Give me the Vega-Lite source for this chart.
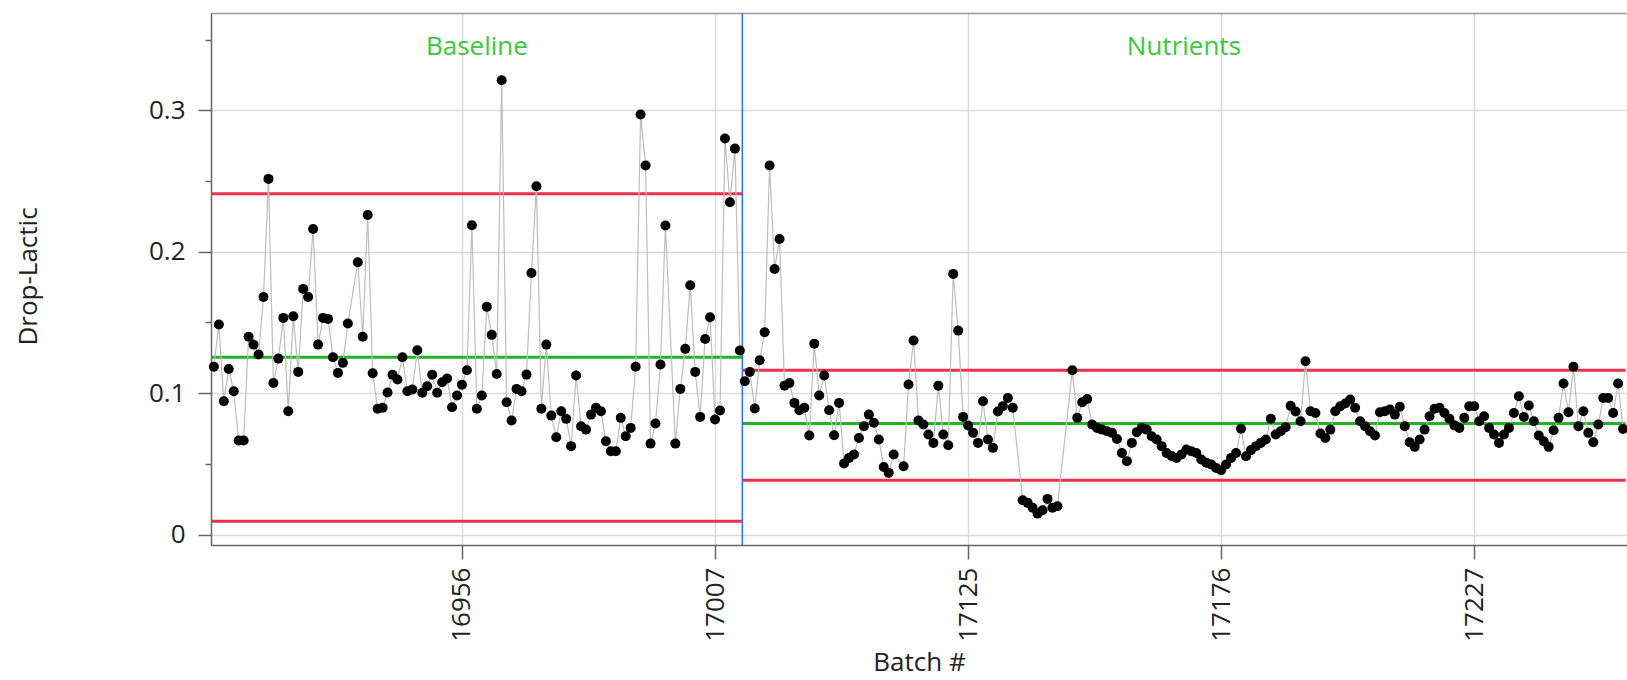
{
"$schema": "https://vega.github.io/schema/vega-lite/v6.json",
"width": 1416, "height": 532,
"autosize": {"type": "none"},
"padding": {"left": 211, "top": 13, "right": 0, "bottom": 135},
"background": "white",
"config": {
  "font": "Open Sans",
  "view": {"stroke": null},
  "axis": {"labelFont": "Open Sans", "titleFont": "Open Sans", "labelFontSize": 26, "titleFontSize": 26, "titleFontWeight": "normal", "labelColor": "#222222", "titleColor": "#222222", "gridColor": "#dadada", "gridWidth": 1.5, "tickColor": "#666666", "tickWidth": 1.5, "domainColor": "#666666", "domainWidth": 1.5}
},
"resolve": {"axis": {"x": "independent"}},
"datasets": {
"points": [
{"row":0,"phase":"Baseline","value":0.1186},{"row":1,"phase":"Baseline","value":0.1485},{"row":2,"phase":"Baseline","value":0.0943},{"row":3,"phase":"Baseline","value":0.1171},{"row":4,"phase":"Baseline","value":0.1013},{"row":5,"phase":"Baseline","value":0.0665},{"row":6,"phase":"Baseline","value":0.0665},{"row":7,"phase":"Baseline","value":0.1398},{"row":8,"phase":"Baseline","value":0.1343},{"row":9,"phase":"Baseline","value":0.1273},
{"row":10,"phase":"Baseline","value":0.168},{"row":11,"phase":"Baseline","value":0.2515},{"row":12,"phase":"Baseline","value":0.1072},{"row":13,"phase":"Baseline","value":0.1244},{"row":14,"phase":"Baseline","value":0.1532},{"row":15,"phase":"Baseline","value":0.0872},{"row":16,"phase":"Baseline","value":0.1544},{"row":17,"phase":"Baseline","value":0.115},{"row":18,"phase":"Baseline","value":0.1737},{"row":19,"phase":"Baseline","value":0.168},
{"row":20,"phase":"Baseline","value":0.2161},{"row":21,"phase":"Baseline","value":0.1343},{"row":22,"phase":"Baseline","value":0.1532},{"row":23,"phase":"Baseline","value":0.1525},{"row":24,"phase":"Baseline","value":0.1254},{"row":25,"phase":"Baseline","value":0.1143},{"row":26,"phase":"Baseline","value":0.1214},{"row":27,"phase":"Baseline","value":0.1492},{"row":29,"phase":"Baseline","value":0.1926},
{"row":30,"phase":"Baseline","value":0.1398},{"row":31,"phase":"Baseline","value":0.226},{"row":32,"phase":"Baseline","value":0.114},{"row":33,"phase":"Baseline","value":0.0889},{"row":34,"phase":"Baseline","value":0.0896},{"row":35,"phase":"Baseline","value":0.1005},{"row":36,"phase":"Baseline","value":0.113},{"row":37,"phase":"Baseline","value":0.1096},{"row":38,"phase":"Baseline","value":0.1254},{"row":39,"phase":"Baseline","value":0.1013},
{"row":40,"phase":"Baseline","value":0.1025},{"row":41,"phase":"Baseline","value":0.1303},{"row":42,"phase":"Baseline","value":0.1002},{"row":43,"phase":"Baseline","value":0.1049},{"row":44,"phase":"Baseline","value":0.113},{"row":45,"phase":"Baseline","value":0.1002},{"row":46,"phase":"Baseline","value":0.1077},{"row":47,"phase":"Baseline","value":0.1103},{"row":48,"phase":"Baseline","value":0.09},{"row":49,"phase":"Baseline","value":0.0983},
{"row":50,"phase":"Baseline","value":0.106},{"row":51,"phase":"Baseline","value":0.1162},{"row":52,"phase":"Baseline","value":0.2187},{"row":53,"phase":"Baseline","value":0.0889},{"row":54,"phase":"Baseline","value":0.0983},{"row":55,"phase":"Baseline","value":0.161},{"row":56,"phase":"Baseline","value":0.1412},{"row":57,"phase":"Baseline","value":0.1135},{"row":58,"phase":"Baseline","value":0.3212},{"row":59,"phase":"Baseline","value":0.0936},
{"row":60,"phase":"Baseline","value":0.0806},{"row":61,"phase":"Baseline","value":0.103},{"row":62,"phase":"Baseline","value":0.1013},{"row":63,"phase":"Baseline","value":0.1131},{"row":64,"phase":"Baseline","value":0.185},{"row":65,"phase":"Baseline","value":0.2463},{"row":66,"phase":"Baseline","value":0.0889},{"row":67,"phase":"Baseline","value":0.1343},{"row":68,"phase":"Baseline","value":0.0841},{"row":69,"phase":"Baseline","value":0.0688},
{"row":70,"phase":"Baseline","value":0.0872},{"row":71,"phase":"Baseline","value":0.0818},{"row":72,"phase":"Baseline","value":0.0625},{"row":73,"phase":"Baseline","value":0.1124},{"row":74,"phase":"Baseline","value":0.0766},{"row":75,"phase":"Baseline","value":0.0742},{"row":76,"phase":"Baseline","value":0.0848},{"row":77,"phase":"Baseline","value":0.0896},{"row":78,"phase":"Baseline","value":0.0872},{"row":79,"phase":"Baseline","value":0.066},
{"row":80,"phase":"Baseline","value":0.0589},{"row":81,"phase":"Baseline","value":0.0589},{"row":82,"phase":"Baseline","value":0.0825},{"row":83,"phase":"Baseline","value":0.0695},{"row":84,"phase":"Baseline","value":0.0754},{"row":85,"phase":"Baseline","value":0.1186},{"row":86,"phase":"Baseline","value":0.297},{"row":87,"phase":"Baseline","value":0.2609},{"row":88,"phase":"Baseline","value":0.0643},{"row":89,"phase":"Baseline","value":0.0785},
{"row":90,"phase":"Baseline","value":0.1202},{"row":91,"phase":"Baseline","value":0.2185},{"row":93,"phase":"Baseline","value":0.0643},{"row":94,"phase":"Baseline","value":0.103},{"row":95,"phase":"Baseline","value":0.1313},{"row":96,"phase":"Baseline","value":0.1763},{"row":97,"phase":"Baseline","value":0.115},{"row":98,"phase":"Baseline","value":0.0832},{"row":99,"phase":"Baseline","value":0.1383},
{"row":100,"phase":"Baseline","value":0.1537},{"row":101,"phase":"Baseline","value":0.0813},{"row":102,"phase":"Baseline","value":0.0877},{"row":103,"phase":"Baseline","value":0.28},{"row":104,"phase":"Baseline","value":0.235},{"row":105,"phase":"Baseline","value":0.2729},{"row":106,"phase":"Baseline","value":0.1301},
{"row":107,"phase":"Nutrients","value":0.1084},{"row":108,"phase":"Nutrients","value":0.115},{"row":109,"phase":"Nutrients","value":0.0891},
{"row":110,"phase":"Nutrients","value":0.1233},{"row":111,"phase":"Nutrients","value":0.1431},{"row":112,"phase":"Nutrients","value":0.2609},{"row":113,"phase":"Nutrients","value":0.1878},{"row":114,"phase":"Nutrients","value":0.209},{"row":115,"phase":"Nutrients","value":0.1053},{"row":116,"phase":"Nutrients","value":0.1072},{"row":117,"phase":"Nutrients","value":0.0931},{"row":118,"phase":"Nutrients","value":0.0879},{"row":119,"phase":"Nutrients","value":0.0896},
{"row":120,"phase":"Nutrients","value":0.07},{"row":121,"phase":"Nutrients","value":0.135},{"row":122,"phase":"Nutrients","value":0.0983},{"row":123,"phase":"Nutrients","value":0.1124},{"row":124,"phase":"Nutrients","value":0.0879},{"row":125,"phase":"Nutrients","value":0.0702},{"row":126,"phase":"Nutrients","value":0.0931},{"row":127,"phase":"Nutrients","value":0.0502},{"row":128,"phase":"Nutrients","value":0.0542},{"row":129,"phase":"Nutrients","value":0.0566},
{"row":130,"phase":"Nutrients","value":0.0683},{"row":131,"phase":"Nutrients","value":0.0766},{"row":132,"phase":"Nutrients","value":0.0848},{"row":133,"phase":"Nutrients","value":0.079},{"row":134,"phase":"Nutrients","value":0.0672},{"row":135,"phase":"Nutrients","value":0.0478},{"row":136,"phase":"Nutrients","value":0.0436},{"row":137,"phase":"Nutrients","value":0.0566},{"row":139,"phase":"Nutrients","value":0.0483},
{"row":140,"phase":"Nutrients","value":0.1061},{"row":141,"phase":"Nutrients","value":0.1372},{"row":142,"phase":"Nutrients","value":0.0806},{"row":143,"phase":"Nutrients","value":0.0778},{"row":144,"phase":"Nutrients","value":0.0707},{"row":145,"phase":"Nutrients","value":0.0648},{"row":146,"phase":"Nutrients","value":0.1053},{"row":147,"phase":"Nutrients","value":0.0707},{"row":148,"phase":"Nutrients","value":0.0632},{"row":149,"phase":"Nutrients","value":0.1843},
{"row":150,"phase":"Nutrients","value":0.1442},{"row":151,"phase":"Nutrients","value":0.0832},{"row":152,"phase":"Nutrients","value":0.0771},{"row":153,"phase":"Nutrients","value":0.0719},{"row":154,"phase":"Nutrients","value":0.0648},{"row":155,"phase":"Nutrients","value":0.0943},{"row":156,"phase":"Nutrients","value":0.0672},{"row":157,"phase":"Nutrients","value":0.0613},{"row":158,"phase":"Nutrients","value":0.087},{"row":159,"phase":"Nutrients","value":0.0908},
{"row":160,"phase":"Nutrients","value":0.0966},{"row":161,"phase":"Nutrients","value":0.0896},{"row":163,"phase":"Nutrients","value":0.0243},{"row":164,"phase":"Nutrients","value":0.0224},{"row":165,"phase":"Nutrients","value":0.0189},{"row":166,"phase":"Nutrients","value":0.0148},{"row":167,"phase":"Nutrients","value":0.0172},{"row":168,"phase":"Nutrients","value":0.0252},{"row":169,"phase":"Nutrients","value":0.0189},
{"row":170,"phase":"Nutrients","value":0.02},{"row":173,"phase":"Nutrients","value":0.1162},{"row":174,"phase":"Nutrients","value":0.0825},{"row":175,"phase":"Nutrients","value":0.0936},{"row":176,"phase":"Nutrients","value":0.0959},{"row":177,"phase":"Nutrients","value":0.0778},{"row":178,"phase":"Nutrients","value":0.0754},{"row":179,"phase":"Nutrients","value":0.0742},
{"row":180,"phase":"Nutrients","value":0.0731},{"row":181,"phase":"Nutrients","value":0.0719},{"row":182,"phase":"Nutrients","value":0.0676},{"row":183,"phase":"Nutrients","value":0.0577},{"row":184,"phase":"Nutrients","value":0.0519},{"row":185,"phase":"Nutrients","value":0.0648},{"row":186,"phase":"Nutrients","value":0.0724},{"row":187,"phase":"Nutrients","value":0.0754},{"row":188,"phase":"Nutrients","value":0.0742},{"row":189,"phase":"Nutrients","value":0.0695},
{"row":190,"phase":"Nutrients","value":0.0672},{"row":191,"phase":"Nutrients","value":0.0625},{"row":192,"phase":"Nutrients","value":0.0577},{"row":193,"phase":"Nutrients","value":0.0555},{"row":194,"phase":"Nutrients","value":0.0542},{"row":195,"phase":"Nutrients","value":0.0566},{"row":196,"phase":"Nutrients","value":0.0601},{"row":197,"phase":"Nutrients","value":0.0589},{"row":198,"phase":"Nutrients","value":0.0577},{"row":199,"phase":"Nutrients","value":0.053},
{"row":200,"phase":"Nutrients","value":0.0507},{"row":201,"phase":"Nutrients","value":0.0495},{"row":202,"phase":"Nutrients","value":0.047},{"row":203,"phase":"Nutrients","value":0.0455},{"row":204,"phase":"Nutrients","value":0.0495},{"row":205,"phase":"Nutrients","value":0.0542},{"row":206,"phase":"Nutrients","value":0.0577},{"row":207,"phase":"Nutrients","value":0.0748},{"row":208,"phase":"Nutrients","value":0.0554},{"row":209,"phase":"Nutrients","value":0.0597},
{"row":210,"phase":"Nutrients","value":0.0625},{"row":211,"phase":"Nutrients","value":0.0648},{"row":212,"phase":"Nutrients","value":0.0672},{"row":213,"phase":"Nutrients","value":0.0818},{"row":214,"phase":"Nutrients","value":0.0707},{"row":215,"phase":"Nutrients","value":0.0731},{"row":216,"phase":"Nutrients","value":0.0759},{"row":217,"phase":"Nutrients","value":0.091},{"row":218,"phase":"Nutrients","value":0.087},{"row":219,"phase":"Nutrients","value":0.0801},
{"row":220,"phase":"Nutrients","value":0.1226},{"row":221,"phase":"Nutrients","value":0.0872},{"row":222,"phase":"Nutrients","value":0.086},{"row":223,"phase":"Nutrients","value":0.0714},{"row":224,"phase":"Nutrients","value":0.0683},{"row":225,"phase":"Nutrients","value":0.0742},{"row":226,"phase":"Nutrients","value":0.0872},{"row":227,"phase":"Nutrients","value":0.0907},{"row":228,"phase":"Nutrients","value":0.0926},{"row":229,"phase":"Nutrients","value":0.0955},
{"row":230,"phase":"Nutrients","value":0.0896},{"row":231,"phase":"Nutrients","value":0.0801},{"row":232,"phase":"Nutrients","value":0.0766},{"row":233,"phase":"Nutrients","value":0.0731},{"row":234,"phase":"Nutrients","value":0.07},{"row":235,"phase":"Nutrients","value":0.0865},{"row":236,"phase":"Nutrients","value":0.0872},{"row":237,"phase":"Nutrients","value":0.0884},{"row":238,"phase":"Nutrients","value":0.0848},{"row":239,"phase":"Nutrients","value":0.0903},
{"row":240,"phase":"Nutrients","value":0.0766},{"row":241,"phase":"Nutrients","value":0.0653},{"row":242,"phase":"Nutrients","value":0.062},{"row":243,"phase":"Nutrients","value":0.0672},{"row":244,"phase":"Nutrients","value":0.0742},{"row":245,"phase":"Nutrients","value":0.0837},{"row":246,"phase":"Nutrients","value":0.0889},{"row":247,"phase":"Nutrients","value":0.0896},{"row":248,"phase":"Nutrients","value":0.086},{"row":249,"phase":"Nutrients","value":0.0819},
{"row":250,"phase":"Nutrients","value":0.0772},{"row":251,"phase":"Nutrients","value":0.0754},{"row":252,"phase":"Nutrients","value":0.0825},{"row":253,"phase":"Nutrients","value":0.0907},{"row":254,"phase":"Nutrients","value":0.0907},{"row":255,"phase":"Nutrients","value":0.0801},{"row":256,"phase":"Nutrients","value":0.0837},{"row":257,"phase":"Nutrients","value":0.0754},{"row":258,"phase":"Nutrients","value":0.0707},{"row":259,"phase":"Nutrients","value":0.0648},
{"row":260,"phase":"Nutrients","value":0.0707},{"row":261,"phase":"Nutrients","value":0.0754},{"row":262,"phase":"Nutrients","value":0.086},{"row":263,"phase":"Nutrients","value":0.0978},{"row":264,"phase":"Nutrients","value":0.0832},{"row":265,"phase":"Nutrients","value":0.0912},{"row":266,"phase":"Nutrients","value":0.0801},{"row":267,"phase":"Nutrients","value":0.07},{"row":268,"phase":"Nutrients","value":0.066},{"row":269,"phase":"Nutrients","value":0.062},
{"row":270,"phase":"Nutrients","value":0.0738},{"row":271,"phase":"Nutrients","value":0.0825},{"row":272,"phase":"Nutrients","value":0.1068},{"row":273,"phase":"Nutrients","value":0.0865},{"row":274,"phase":"Nutrients","value":0.1186},{"row":275,"phase":"Nutrients","value":0.0766},{"row":276,"phase":"Nutrients","value":0.0872},{"row":277,"phase":"Nutrients","value":0.0719},{"row":278,"phase":"Nutrients","value":0.0653},{"row":279,"phase":"Nutrients","value":0.0778},
{"row":280,"phase":"Nutrients","value":0.0966},{"row":281,"phase":"Nutrients","value":0.0966},{"row":282,"phase":"Nutrients","value":0.086},{"row":283,"phase":"Nutrients","value":0.1068},{"row":284,"phase":"Nutrients","value":0.0747}
],
"limits": [
{"phase":"Baseline","kind":"UCL","row":-0.5,"row2":106.5,"value":0.2409},
{"phase":"Baseline","kind":"Avg","row":-0.5,"row2":106.5,"value":0.1254},
{"phase":"Baseline","kind":"LCL","row":-0.5,"row2":106.5,"value":0.0094},
{"phase":"Nutrients","kind":"UCL","row":106.5,"row2":284.5,"value":0.1162},
{"phase":"Nutrients","kind":"Avg","row":106.5,"row2":284.5,"value":0.0785},
{"phase":"Nutrients","kind":"LCL","row":106.5,"row2":284.5,"value":0.0384}
],
"phases": [
{"phase":"Baseline","row":53,"value":0.3394,"start":-0.5},
{"phase":"Nutrients","row":195.5,"value":0.3394,"start":106.5}
]
},
"layer": [
{
  "data": {"name": "points"},
  "mark": {"type": "circle", "size": 0, "opacity": 0},
  "encoding": {
    "x": {"field": "row", "type": "quantitative", "scale": {"domain": [-0.58, 284.79], "nice": false, "zero": false},
      "axis": {"values": [50, 101, 152, 203, 254],
        "labelExpr": "datum.value == 50 ? '16956' : datum.value == 101 ? '17007' : datum.value == 152 ? '17125' : datum.value == 203 ? '17176' : '17227'",
        "labelAngle": 270, "labelAlign": "right", "labelBaseline": "middle", "labelPadding": 8, "tickSize": 14,
        "labelFlush": false, "labelOverlap": false, "grid": true,
        "title": "Batch #", "titleX": 708, "titleY": 117, "titleAlign": "center", "titleBaseline": "middle"}},
    "y": {"field": "value", "type": "quantitative", "scale": {"domain": [-0.0074, 0.3688], "nice": false, "zero": false},
      "axis": {"values": [0, 0.05, 0.1, 0.15, 0.2, 0.25, 0.3, 0.35], "format": "~g",
        "labelExpr": "indexof([0.05, 0.15, 0.25, 0.35], datum.value) >= 0 ? '' : datum.label",
        "tickSize": {"condition": {"test": "indexof([0.05, 0.15, 0.25, 0.35], datum.value) >= 0", "value": 6}, "value": 13},
        "gridOpacity": {"condition": {"test": "indexof([0.05, 0.15, 0.25, 0.35], datum.value) >= 0", "value": 0}, "value": 1},
        "labelPadding": 13, "grid": true,
        "title": "Drop-Lactic", "titleAngle": 270, "titleX": -183, "titleY": 263, "titleAlign": "center", "titleBaseline": "middle"}}
  }
},
{
  "data": {"name": "phases"},
  "mark": {"type": "circle", "size": 0, "opacity": 0},
  "encoding": {
    "x": {"field": "row", "type": "quantitative",
      "axis": {"orient": "top", "domain": true, "domainColor": "#9a9a9a", "ticks": false, "labels": false, "grid": false, "title": null}},
    "y": {"field": "value", "type": "quantitative", "title": "Drop-Lactic"}
  }
},
{
  "data": {"name": "limits"},
  "mark": {"type": "rule", "strokeWidth": 3, "clip": true},
  "encoding": {
    "x": {"field": "row", "type": "quantitative", "axis": null},
    "x2": {"field": "row2"},
    "y": {"field": "value", "type": "quantitative", "title": "Drop-Lactic"},
    "color": {"field": "kind", "type": "nominal", "scale": {"domain": ["UCL", "Avg", "LCL"], "range": ["#ec2f4b", "#22b322", "#ec2f4b"]}, "legend": null}
  }
},
{
  "data": {"name": "phases"},
  "transform": [{"filter": "datum.start > 0"}],
  "mark": {"type": "rule", "color": "#2f6ff5", "strokeWidth": 1.5},
  "encoding": {
    "x": {"field": "start", "type": "quantitative", "axis": null}
  }
},
{
  "data": {"name": "points"},
  "mark": {"type": "line", "color": "#bdbdbd", "strokeWidth": 1.2, "clip": true},
  "encoding": {
    "x": {"field": "row", "type": "quantitative", "axis": null},
    "y": {"field": "value", "type": "quantitative", "title": "Drop-Lactic"},
    "detail": {"field": "phase"}
  }
},
{
  "data": {"name": "points"},
  "mark": {"type": "circle", "size": 100, "color": "#000000", "opacity": 1},
  "encoding": {
    "x": {"field": "row", "type": "quantitative", "axis": null},
    "y": {"field": "value", "type": "quantitative", "title": "Drop-Lactic"}
  }
},
{
  "data": {"name": "phases"},
  "mark": {"type": "text", "font": "Open Sans", "fontSize": 26, "color": "#3cc83c", "align": "center", "baseline": "alphabetic"},
  "encoding": {
    "x": {"field": "row", "type": "quantitative", "axis": null},
    "y": {"field": "value", "type": "quantitative", "title": "Drop-Lactic"},
    "text": {"field": "phase"}
  }
}
]
}
